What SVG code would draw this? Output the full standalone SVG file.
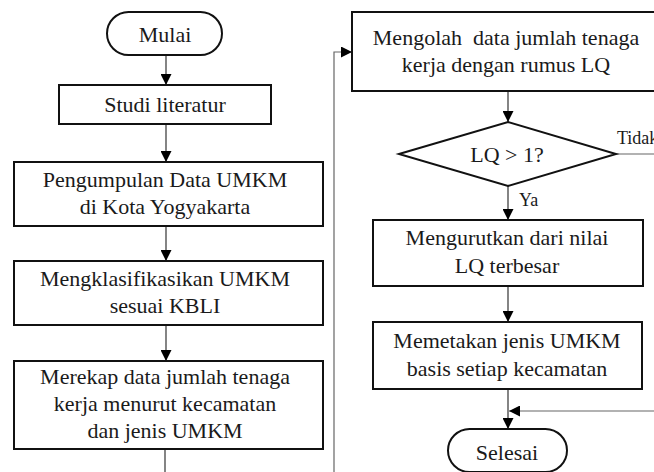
<svg xmlns="http://www.w3.org/2000/svg" width="654" height="472" viewBox="0 0 654 472" font-family="'Liberation Serif', 'Times New Roman', serif">
<defs>
<marker id="ah" viewBox="0 0 10 10" refX="10" refY="5" markerWidth="11" markerHeight="11" markerUnits="userSpaceOnUse" orient="auto">
<path d="M0,0 L10,5 L0,10 z" fill="#000"/>
</marker>
<style>
.box{fill:#fff;stroke:#111;stroke-width:2}
.t{font-family:'Liberation Serif','Times New Roman',serif;font-size:22px;fill:#1a1a1a;text-anchor:middle}
.tl{font-family:'Liberation Serif','Times New Roman',serif;font-size:18px;fill:#1a1a1a}
.c{fill:none;stroke:#333;stroke-width:1.2}
.cg{fill:none;stroke:#666;stroke-width:1.2}
</style>
</defs>
<rect width="654" height="472" fill="#fff"/>
<g id="connectors">
<line class="c" x1="166" y1="55" x2="166" y2="85" marker-end="url(#ah)"/>
<line class="c" x1="166" y1="124" x2="166" y2="162" marker-end="url(#ah)"/>
<line class="c" x1="166" y1="226" x2="166" y2="261" marker-end="url(#ah)"/>
<line class="c" x1="166" y1="325" x2="166" y2="361" marker-end="url(#ah)"/>
<line class="c" x1="165" y1="449" x2="165" y2="472"/>
<polyline class="cg" points="334,472 334,52 352,52" marker-end="url(#ah)"/>
<line class="c" x1="508" y1="91" x2="508" y2="122" marker-end="url(#ah)"/>
<line class="c" x1="508" y1="186" x2="508" y2="220" marker-end="url(#ah)"/>
<line class="cg" x1="616" y1="154" x2="654" y2="154"/>
<line class="c" x1="508" y1="286" x2="508" y2="322" marker-end="url(#ah)"/>
<line class="c" x1="508" y1="389" x2="508" y2="429" marker-end="url(#ah)"/>
<line class="cg" x1="654" y1="411" x2="509" y2="411" marker-end="url(#ah)"/>
<text class="tl" x="617" y="144">Tidak</text>
<text class="tl" x="519" y="206">Ya</text>
</g>
<g id="mulai">
<rect class="box" x="107" y="12" width="115" height="43" rx="21.5"/>
<text class="t" x="165" y="42">Mulai</text>
</g>
<g id="studi">
<rect class="box" x="59" y="85" width="212" height="39"/>
<text class="t" x="165" y="112">Studi literatur</text>
</g>
<g id="pengumpulan">
<rect class="box" x="14" y="162" width="309" height="64"/>
<text class="t" x="165" y="187">Pengumpulan Data UMKM</text>
<text class="t" x="165" y="214">di Kota Yogyakarta</text>
</g>
<g id="klasifikasi">
<rect class="box" x="14" y="261" width="309" height="64"/>
<text class="t" x="165" y="286">Mengklasifikasikan UMKM</text>
<text class="t" x="165" y="313">sesuai KBLI</text>
</g>
<g id="merekap">
<rect class="box" x="14" y="361" width="309" height="88"/>
<text class="t" x="165" y="384">Merekap data jumlah tenaga</text>
<text class="t" x="165" y="411">kerja menurut kecamatan</text>
<text class="t" x="165" y="438">dan jenis UMKM</text>
</g>
<g id="mengolah">
<rect class="box" x="352" y="12" width="310" height="79"/>
<text class="t" x="506" y="45">Mengolah&#160; data jumlah tenaga</text>
<text class="t" x="506" y="72">kerja dengan rumus LQ</text>
</g>
<g id="keputusan">
<polygon class="box" points="399,154 508,122 616,154 508,186"/>
<text class="t" x="507" y="162">LQ &gt; 1?</text>
</g>
<g id="mengurutkan">
<rect class="box" x="373" y="220" width="270" height="66"/>
<text class="t" x="507" y="245">Mengurutkan dari nilai</text>
<text class="t" x="507" y="273">LQ terbesar</text>
</g>
<g id="memetakan">
<rect class="box" x="373" y="322" width="269" height="67"/>
<text class="t" x="507" y="348">Memetakan jenis UMKM</text>
<text class="t" x="507" y="376">basis setiap kecamatan</text>
</g>
<g id="selesai">
<rect class="box" x="448" y="429" width="119" height="43" rx="21.5"/>
<text class="t" x="507" y="460">Selesai</text>
</g>
</svg>
